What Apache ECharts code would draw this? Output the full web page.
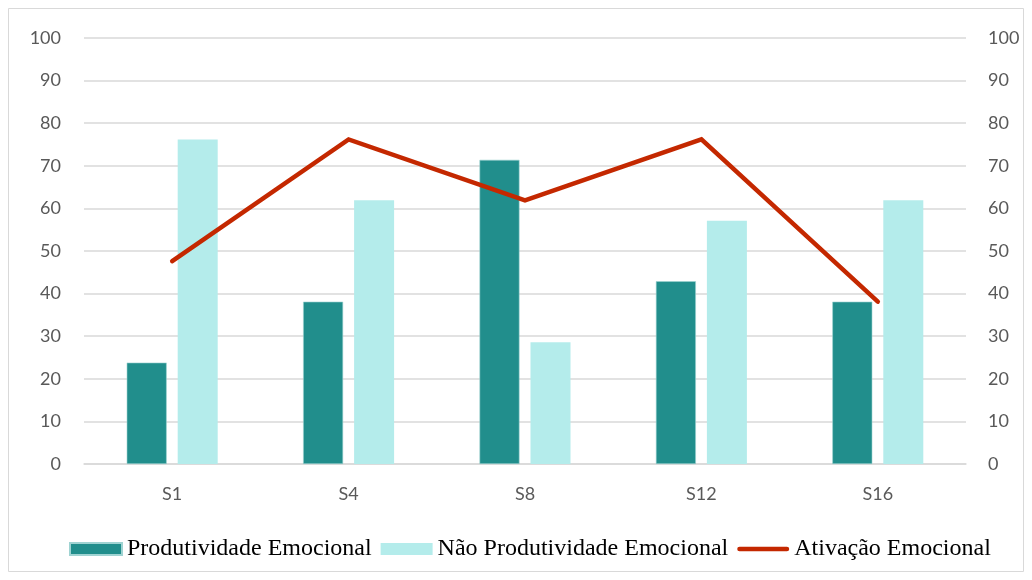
<!DOCTYPE html>
<html>
<head>
<meta charset="utf-8">
<script src="https://cdn.jsdelivr.net/npm/echarts@6/dist/echarts.min.js"></script>
<style>html,body{margin:0;padding:0;background:#fff}#c{width:1032px;height:580px}</style>
</head>
<body>
<div id="c"></div>
<script>
var categories = ['S1', 'S4', 'S8', 'S12', 'S16'];
var produtividade = [23.8, 38.1, 71.4, 42.9, 38.1];
var naoProdutividade = [76.2, 61.9, 28.6, 57.1, 61.9];
var ativacao = [47.6, 76.2, 61.9, 76.2, 38.1];
var seriesNames = ['Produtividade Emocional', 'Não Produtividade Emocional', 'Ativação Emocional'];

var chart = echarts.init(document.getElementById('c'), null, {renderer: 'canvas'});
var axisLabelStyle = {color: '#595959', fontSize: 18, fontFamily: 'Lato'};
var option = {
  animation: false,
  backgroundColor: '#fff',
  graphic: [{
    type: 'rect', shape: {x: 8.5, y: 8.5, width: 1015, height: 563},
    style: {fill: 'none', stroke: '#d9d9d9', lineWidth: 1}, silent: true, z: -1
  }],
  grid: {left: 84, right: 66, top: 38, bottom: 116},
  legend: {
    top: 532, left: 64,
    itemWidth: 52, itemHeight: 12, itemGap: 9,
    symbolKeepAspect: true,
    textStyle: {fontFamily: 'Liberation Serif', fontSize: 24, color: '#000'},
    data: [
      {name: seriesNames[0], icon: 'rect'},
      {name: seriesNames[1], icon: 'rect'},
      {name: seriesNames[2], icon: 'path://M2.5,0 L53.5,0 A2.5,2.5 0 0 1 53.5,5 L2.5,5 A2.5,2.5 0 0 1 2.5,0 Z'}
    ]
  },
  xAxis: {
    type: 'category', data: categories,
    axisLine: {lineStyle: {color: '#d9d9d9', width: 1.5}},
    axisTick: {show: false},
    axisLabel: Object.assign({margin: 21}, axisLabelStyle)
  },
  yAxis: [{
    type: 'value', min: 0, max: 100, interval: 10,
    axisLine: {show: false}, axisTick: {show: false},
    splitLine: {lineStyle: {color: '#d9d9d9', width: 1.5}},
    axisLabel: Object.assign({margin: 23}, axisLabelStyle)
  }, {
    type: 'value', min: 0, max: 100, interval: 10,
    axisLine: {show: false}, axisTick: {show: false},
    splitLine: {show: false},
    axisLabel: Object.assign({margin: 22}, axisLabelStyle)
  }],
  series: [{
    name: seriesNames[0], type: 'bar', data: produtividade,
    barWidth: 40, barGap: '27.5%',
    itemStyle: {color: '#218E8C', borderColor: '#9fd3d2', borderWidth: 0.6}
  }, {
    name: seriesNames[1], type: 'bar', data: naoProdutividade,
    barWidth: 40,
    itemStyle: {color: '#B4ECEB'}
  }, {
    name: seriesNames[2], type: 'line', data: ativacao, yAxisIndex: 1,
    symbol: 'none', showSymbol: false,
    lineStyle: {color: '#C42800', width: 4.5, cap: 'round', join: 'miter'},
    itemStyle: {color: '#C42800'}, z: 5
  }]
};
chart.setOption(option);
</script>
</body>
</html>
